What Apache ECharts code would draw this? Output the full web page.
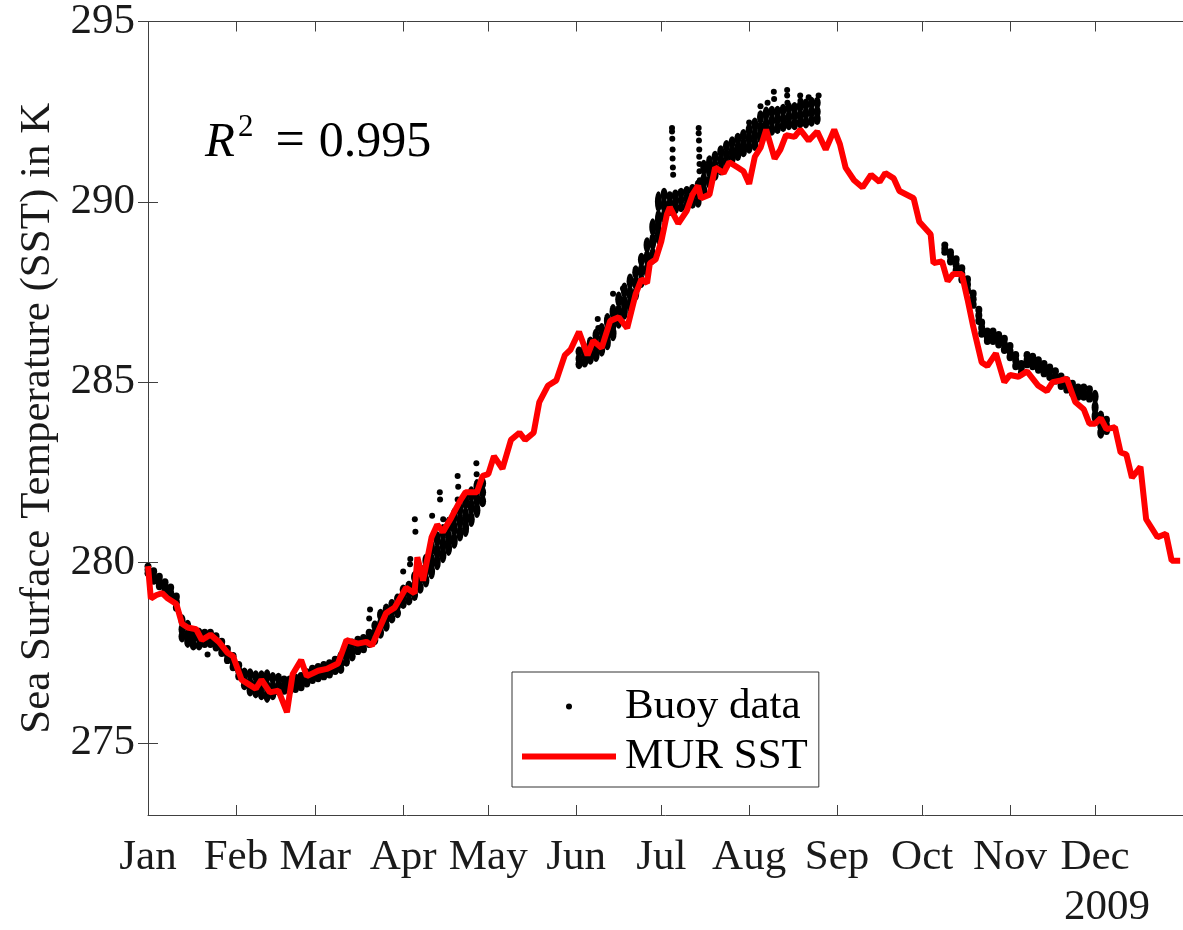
<!DOCTYPE html>
<html><head><meta charset="utf-8">
<script src="https://cdn.jsdelivr.net/npm/echarts@6/dist/echarts.min.js"></script>
<style>html,body{margin:0;padding:0;background:#fff}#c{width:1183px;height:930px}</style>
</head><body><div id="c"></div>
<script>
// ---- tick labels ----
const monthNames = ['Jan','Feb','Mar','Apr','May','Jun','Jul','Aug','Sep','Oct','Nov','Dec'];
const monthStartDays = [0,31,59,90,120,151,181,212,243,273,304,334];
const yTicks = [275,280,285,290,295];

// ---- MUR SST (day of year 2009, K) ----
const murDays = [0,1,3,5,7,10,12,14,17,19,22,25,28,30,33,35,38,40,43,46,49,51,54,56,60,63,67,70,74,77,79,84,87,91,94,95,97,100,102,104,107,110,112,116,118,120,122,125,128,131,133,136,138,141,144,147,149,152,155,157,160,163,166,169,172,174,176,177,179,181,183,184,187,190,192,194,195,198,200,203,205,208,210,212,214,216,218,221,223,225,228,230,233,236,239,242,244,246,249,252,255,258,260,263,265,270,272,276,277,280,282,284,287,289,291,294,296,299,302,304,307,310,314,317,319,322,324,327,330,332,334,336,338,341,343,345,347,350,352,354,356,359,361,364];
const murSST = [279.9,279.0,279.1,279.15,279.0,278.85,278.3,278.2,278.15,277.85,278.0,277.8,277.5,277.4,276.75,276.65,276.5,276.75,276.4,276.45,275.85,276.9,277.3,276.85,277.0,277.05,277.2,277.85,277.75,277.8,277.7,278.6,278.75,279.3,279.15,280.15,279.5,280.7,281.05,280.85,281.25,281.7,281.95,281.95,282.4,282.45,282.95,282.6,283.4,283.6,283.4,283.6,284.45,284.9,285.05,285.75,285.9,286.4,285.75,286.15,285.95,286.7,286.8,286.5,287.45,287.85,287.75,288.3,288.4,288.9,289.65,289.85,289.4,289.75,290.2,290.45,290.1,290.2,290.95,290.8,291.1,290.95,290.85,290.5,291.25,291.5,292.0,291.2,291.45,291.85,291.8,292.0,291.7,291.95,291.45,292.0,291.6,290.95,290.6,290.4,290.75,290.55,290.8,290.65,290.3,290.1,289.45,289.1,288.3,288.35,287.8,288.0,288.0,287.3,286.55,285.55,285.45,285.8,285.0,285.2,285.15,285.3,284.9,284.75,285.0,285.05,285.1,284.45,284.25,283.85,283.85,284.0,283.7,283.75,283.05,283.0,282.35,282.65,281.2,280.95,280.7,280.8,280.05,280.05];

// ---- Buoy data: band read per sampled day (low / middle / high of the dot cloud) ----
const buoyDays = [0,2,4,6,8,10,12,14,16,18,20,22,24,26,28,30,32,34,36,38,40,42,44,46,48,50,52,54,56,58,60,62,64,66,68,70,72,74,76,78,80,82,84,86,88,90,92,94,96,98,100,102,104,106,108,110,112,114,116,118,
  152,154,156,158,160,162,164,166,168,170,172,174,176,178,180,182,184,186,188,190,192,194,196,198,200,202,204,206,208,210,212,214,216,218,220,222,224,226,228,230,232,234,236,
  281,283,285,287,289,291,293,294,296,298,300,302,304,306,308,310,312,314,316,318,320,322,324,326,328,330,332,334,336,338];
const buoyLow = [279.7,279.5,279.35,279.2,279.05,278.75,277.95,277.8,277.7,277.7,277.75,277.75,277.65,277.5,277.3,277.1,276.85,276.6,276.45,276.4,276.35,276.3,276.35,276.45,276.45,276.45,276.5,276.55,276.65,276.75,276.8,276.85,276.9,277.0,277.05,277.25,277.4,277.55,277.6,277.75,277.85,278.05,278.25,278.45,278.6,278.85,278.95,279.1,279.3,279.5,279.75,280.0,280.2,280.4,280.6,280.8,280.95,281.2,281.45,281.7,
  285.5,285.55,285.65,285.75,285.9,286.1,286.35,286.7,286.95,287.15,287.45,287.8,288.1,288.5,289.1,289.6,289.75,289.8,289.85,289.9,289.95,290.0,290.3,290.55,290.75,290.9,291.05,291.2,291.3,291.4,291.5,291.6,291.8,291.9,292.0,292.05,292.1,292.15,292.15,292.2,292.2,292.25,292.3,
  288.6,288.35,288.1,287.85,287.55,287.15,286.7,286.35,286.15,286.15,286.05,285.9,285.7,285.45,285.25,285.5,285.45,285.35,285.25,285.15,285.05,284.9,284.8,284.7,284.6,284.6,284.55,284.05,283.6,283.65];
const buoyMid = [279.8,279.6,279.45,279.3,279.15,278.9,278.15,278.0,277.9,277.9,277.9,277.9,277.8,277.65,277.45,277.25,277.0,276.75,276.65,276.6,276.6,276.55,276.55,276.6,276.6,276.6,276.65,276.7,276.8,276.9,276.95,277.0,277.05,277.15,277.2,277.45,277.55,277.7,277.75,277.9,278.05,278.3,278.45,278.65,278.8,279.05,279.15,279.35,279.55,279.8,280.05,280.3,280.5,280.7,280.95,281.15,281.3,281.55,281.75,281.95,
  285.65,285.75,285.85,286.0,286.15,286.35,286.6,286.95,287.2,287.45,287.75,288.1,288.45,288.9,289.5,289.9,289.95,290.0,290.05,290.1,290.15,290.2,290.6,290.85,291.0,291.15,291.3,291.4,291.5,291.6,291.75,291.85,292.05,292.15,292.25,292.3,292.3,292.35,292.4,292.4,292.45,292.5,292.5,
  288.7,288.5,288.25,288.0,287.7,287.3,286.85,286.5,286.25,286.25,286.15,286.05,285.85,285.6,285.4,285.6,285.55,285.5,285.4,285.3,285.15,285.0,284.9,284.8,284.7,284.7,284.65,284.3,283.8,283.8];
const buoyHigh = [279.9,279.75,279.6,279.45,279.3,279.05,278.4,278.25,278.1,278.05,278.05,278.05,277.95,277.8,277.6,277.4,277.15,276.95,276.9,276.85,276.85,276.85,276.8,276.8,276.75,276.75,276.8,276.85,276.95,277.05,277.1,277.15,277.2,277.3,277.4,277.65,277.75,277.85,277.9,278.05,278.25,278.55,278.7,278.85,279.0,279.25,279.35,279.6,279.8,280.05,280.4,280.65,280.85,281.05,281.3,281.5,281.7,281.9,282.1,282.2,
  285.85,285.95,286.1,286.3,286.45,286.7,286.95,287.3,287.55,287.8,288.05,288.4,288.8,289.3,290.0,290.2,290.15,290.2,290.25,290.3,290.35,290.45,290.95,291.1,291.25,291.4,291.55,291.65,291.75,291.85,292.0,292.15,292.35,292.45,292.5,292.5,292.55,292.6,292.6,292.65,292.7,292.75,292.75,
  288.8,288.6,288.4,288.15,287.85,287.45,287.0,286.65,286.4,286.4,286.3,286.2,286.0,285.75,285.5,285.75,285.7,285.6,285.5,285.4,285.3,285.15,285.05,284.95,284.85,284.85,284.8,284.6,284.05,283.95];
// isolated buoy readings standing out of the cloud
const spikeDays = [21,78,78.3,90,92.4,92.5,94.1,94.3,100.2,102.9,103,104.1,109.2,109.4,109.2,115.8,115.9,158.6,158.8,164,166.5,167.5,184.8,184.8,184.9,185,185,185.1,185.2,194.2,194.2,194.3,194.4,194.4,194.5,194.5,194.6,212,216,218.5,220.7,220.8,225.4,225.4,225.5,230,230.1,233,236.5];
const spikeVals = [277.45,278.45,278.7,279.75,279.95,280.1,281.2,280.85,281.3,281.95,281.75,281.2,282.4,282.1,281.75,282.75,282.45,286.75,286.5,287.45,287.3,287.6,292.05,291.95,291.75,291.45,291.2,290.95,290.75,292.05,291.9,291.7,291.45,291.25,291.05,290.85,290.6,292.2,292.65,292.75,293.05,292.85,293.1,292.95,292.75,292.95,292.8,292.9,292.95];

const FONT = '"Liberation Serif", "Times New Roman", serif';
const AX = '#404040';
const PX_PER_K = 794 / 22;           // plot height / y span, used only to size the dots
const ELLIPSE = 'path://M0,5A5,5 0 1,0 10,5A5,5 0 1,0 0,5Z';

// the cloud is drawn as dots at low / middle / high; each dot is tall enough to close the gap
const buoyPts = [];
buoyDays.forEach((d, i) => {
  const gap = Math.max(buoyMid[i] - buoyLow[i], buoyHigh[i] - buoyMid[i]) * PX_PER_K;
  const h = Math.max(7, gap + 3);
  [buoyLow[i], buoyMid[i], buoyHigh[i]].forEach(v => buoyPts.push({ value: [d, v], symbolSize: [7, h] }));
});
const spikePts = spikeDays.map((d, i) => [d, spikeVals[i]]);
const murPts = murDays.map((d, i) => [d, murSST[i]]);

const chart = echarts.init(document.getElementById('c'));
const tickStyle = { inside: true, length: 10, lineStyle: { color: AX, width: 1 } };
chart.setOption({
  animation: false,
  backgroundColor: '#fff',
  grid: { left: 148, top: 21, right: -4, bottom: 115, containLabel: false },
  xAxis: [
    { type: 'value', min: 0, max: 365, position: 'bottom',
      axisLine: { show: true, lineStyle: { color: AX, width: 1 } },
      axisTick: Object.assign({ customValues: monthStartDays }, tickStyle),
      axisLabel: { customValues: monthStartDays, formatter: v => monthNames[monthStartDays.indexOf(v)] || '',
        fontFamily: FONT, fontSize: 43, color: '#1a1a1a', margin: 21 },
      splitLine: { show: false } },
    { type: 'value', min: 0, max: 365, position: 'top',
      axisLine: { show: true, lineStyle: { color: AX, width: 1 } },
      axisTick: Object.assign({ customValues: monthStartDays }, tickStyle),
      axisLabel: { show: false }, splitLine: { show: false } }
  ],
  yAxis: [
    { type: 'value', min: 273, max: 295, position: 'left',
      name: 'Sea Surface Temperature (SST) in K', nameLocation: 'middle', nameGap: 84,
      nameTextStyle: { fontFamily: FONT, fontSize: 43, color: '#1a1a1a' },
      axisLine: { show: true, lineStyle: { color: AX, width: 1 } },
      axisTick: Object.assign({ customValues: yTicks }, tickStyle),
      axisLabel: { customValues: yTicks, fontFamily: FONT, fontSize: 43, color: '#1a1a1a', margin: 13 },
      splitLine: { show: false } },
    { type: 'value', min: 273, max: 295, position: 'right',
      axisLine: { show: true, lineStyle: { color: AX, width: 1 } },
      axisTick: Object.assign({ customValues: yTicks }, tickStyle),
      axisLabel: { show: false }, splitLine: { show: false } }
  ],
  legend: {
    orient: 'vertical', left: 512, top: 672,
    backgroundColor: '#fff', borderColor: '#333', borderWidth: 1, borderRadius: 0,
    padding: [13, 11, 9, 10], itemWidth: 94, itemHeight: 6, itemGap: 7,
    selectedMode: false,
    textStyle: { fontFamily: FONT, fontSize: 43, color: '#000', padding: [0, 0, 0, 4] },
    data: [
      { name: 'Buoy data', icon: 'circle', itemStyle: { color: '#000', opacity: 1 } },
      { name: 'MUR SST', icon: 'rect', itemStyle: { color: '#ff0000', opacity: 1 } }
    ]
  },
  graphic: [
    { type: 'text', left: 205, top: 112, silent: true,
      style: { text: '{r|R}{s|2}{e|=}{d|0.995}', fill: '#000',
        rich: {
          r: { fontFamily: FONT, fontStyle: 'italic', fontSize: 49, lineHeight: 56, verticalAlign: 'bottom' },
          s: { fontFamily: FONT, fontSize: 31, lineHeight: 30, verticalAlign: 'top', padding: [0, 0, 0, 3] },
          e: { fontFamily: FONT, fontSize: 52, lineHeight: 56, verticalAlign: 'bottom', padding: [0, 14, 0, 22] },
          d: { fontFamily: FONT, fontSize: 50, lineHeight: 56, verticalAlign: 'bottom' }
        } } },
    { type: 'text', left: 1064, top: 886, silent: true,
      style: { text: '2009', fill: '#1a1a1a', font: '43px "Liberation Serif", serif' } }
  ],
  series: [
    { name: 'Buoy data', type: 'scatter', data: buoyPts, symbol: ELLIPSE, symbolKeepAspect: false,
      itemStyle: { color: '#000', opacity: 1 }, silent: true, z: 2 },
    { name: 'Buoy data', type: 'scatter', data: spikePts, symbol: 'circle', symbolSize: 6,
      itemStyle: { color: '#000', opacity: 1 }, silent: true, z: 2 },
    { name: 'MUR SST', type: 'line', data: murPts, showSymbol: false, symbol: 'none',
      lineStyle: { color: '#ff0000', width: 6 }, itemStyle: { color: '#ff0000' }, silent: true, z: 3 }
  ]
});
</script></body></html>
